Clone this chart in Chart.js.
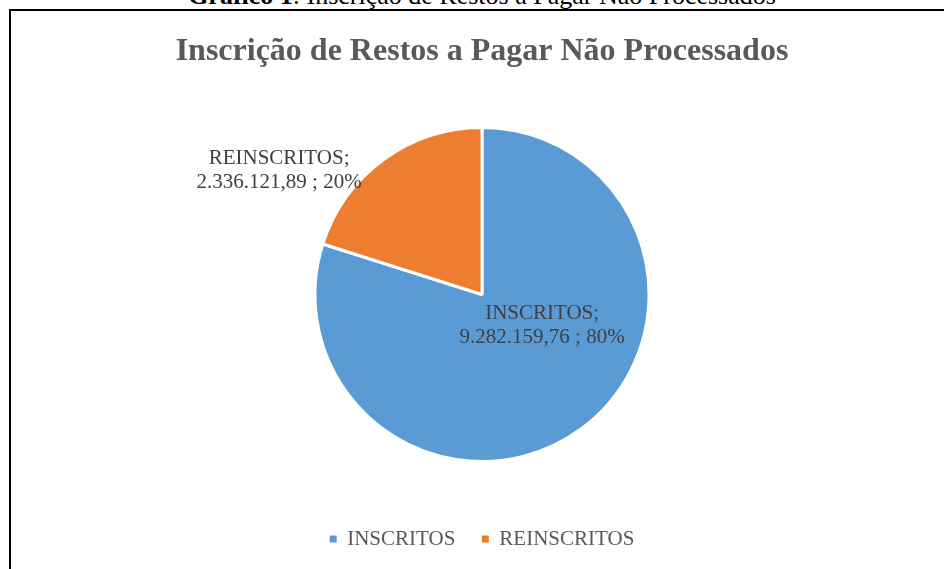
<!DOCTYPE html>
<html>
<head>
<meta charset="utf-8">
<script src="https://cdn.jsdelivr.net/npm/chart.js@4/dist/chart.umd.min.js"></script>
<style>
  html, body { margin: 0; padding: 0; background: #fff; overflow: hidden; }
  #wrap { position: relative; width: 944px; height: 569px; overflow: hidden; }
  #frame { position: absolute; left: 9px; top: 9px; width: 1000px; height: 1000px; border: 2px solid #000; box-sizing: border-box; }
  #caption { position: absolute; left: 0; width: 964px; top: -19px; line-height: 30px; text-align: center; font-family: "Liberation Serif", "Times New Roman", serif; font-size: 26px; color: #000; white-space: nowrap; }
  #c { position: absolute; left: 0; top: 0; }
</style>
</head>
<body>
<div id="wrap">
  <div id="caption"><b>Gráfico 1</b>: Inscrição de Restos a Pagar Não Processados</div>
  <div id="frame"></div>
  <canvas id="c" width="944" height="569"></canvas>
</div>
<script>
const chartTitle = 'Inscrição de Restos a Pagar Não Processados';
const categories = ['INSCRITOS', 'REINSCRITOS'];
const values = [9282159.76, 2336121.89];
const valueLabels = ['9.282.159,76', '2.336.121,89'];
const percentLabels = ['80%', '20%'];
const colors = ['#5B9BD5', '#ED7D31'];

// label anchor offsets (in pie-radius units from the pie centre)
const labelOffsets = [[0.36, 0.185], [-1.215, -0.745]];

const serif = '"Liberation Serif", "Times New Roman", serif';

const dataLabelPlugin = {
  id: 'dataLabels',
  afterDatasetsDraw(chart) {
    const ctx = chart.ctx;
    const meta = chart.getDatasetMeta(0);
    ctx.save();
    ctx.font = '21px ' + serif;
    ctx.fillStyle = '#404040';
    ctx.textAlign = 'center';
    ctx.textBaseline = 'middle';
    meta.data.forEach((arc, i) => {
      const p = arc.getProps(['x', 'y', 'outerRadius'], true);
      const cx = p.x + labelOffsets[i][0] * p.outerRadius;
      const cy = p.y + labelOffsets[i][1] * p.outerRadius;
      ctx.fillText(categories[i] + ';', cx, cy - 12);
      ctx.fillText(valueLabels[i] + ' ; ' + percentLabels[i], cx, cy + 12);
    });
    ctx.restore();
  }
};

new Chart(document.getElementById('c'), {
  type: 'pie',
  data: {
    labels: categories,
    datasets: [{
      data: values,
      backgroundColor: colors,
      borderColor: '#ffffff',
      borderWidth: 3,
      radius: 167
    }]
  },
  options: {
    responsive: false,
    animation: false,
    layout: { padding: { left: 20, right: 0, top: 0, bottom: 9.5 } },
    plugins: {
      title: {
        display: true,
        text: chartTitle,
        color: '#595959',
        font: { family: serif, size: 32, weight: 'bold', lineHeight: 1.2 },
        padding: { top: 32.8, bottom: 15.8 }
      },
      legend: {
        position: 'bottom',
        labels: {
          color: '#595959',
          font: { family: serif, size: 21 },
          boxWidth: 7,
          boxHeight: 7,
          padding: 26.5,
          generateLabels(chart) {
            const items = Chart.overrides.pie.plugins.legend.labels.generateLabels(chart);
            items.forEach(it => { it.lineWidth = 0; it.strokeStyle = 'rgba(0,0,0,0)'; });
            return items;
          }
        }
      },
      tooltip: { enabled: false }
    }
  },
  plugins: [dataLabelPlugin]
});
</script>
</body>
</html>
